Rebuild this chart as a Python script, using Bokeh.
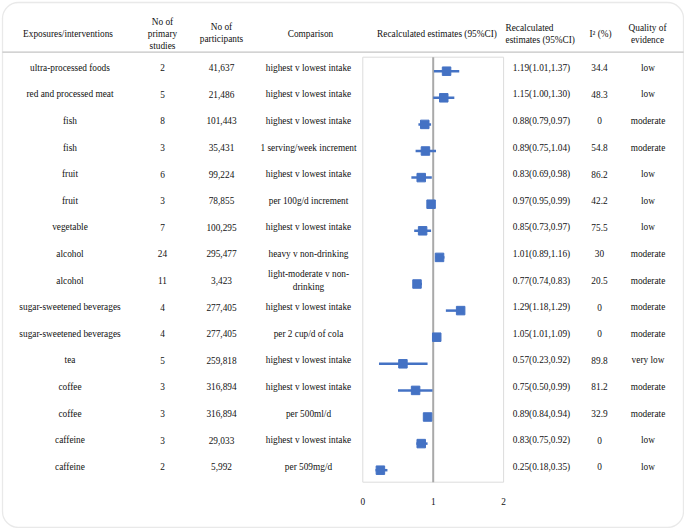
from bokeh.plotting import figure
from bokeh.models import Range1d, BoxAnnotation, ColumnDataSource
from bokeh.core.properties import value
from bokeh.embed import file_html
from bokeh.resources import INLINE

# ---------------- data ----------------
exposures = ["ultra-processed foods", "red and processed meat", "fish", "fish", "fruit", "fruit",
             "vegetable", "alcohol", "alcohol", "sugar-sweetened beverages",
             "sugar-sweetened beverages", "tea", "coffee", "coffee", "caffeine", "caffeine"]
n_studies = ["2", "5", "8", "3", "6", "3", "7", "24", "11", "4", "4", "5", "3", "3", "3", "2"]
n_participants = ["41,637", "21,486", "101,443", "35,431", "99,224", "78,855", "100,295",
                  "295,477", "3,423", "277,405", "277,405", "259,818", "316,894", "316,894",
                  "29,033", "5,992"]
comparisons = ["highest v lowest intake", "highest v lowest intake", "highest v lowest intake",
               "1 serving/week increment", "highest v lowest intake", "per 100g/d increment",
               "highest v lowest intake", "heavy v non-drinking", "light-moderate v non-\ndrinking",
               "highest v lowest intake", "per 2 cup/d of cola", "highest v lowest intake",
               "highest v lowest intake", "per 500ml/d", "highest v lowest intake", "per 509mg/d"]
estimate_labels = ["1.19(1.01,1.37)", "1.15(1.00,1.30)", "0.88(0.79,0.97)", "0.89(0.75,1.04)",
                   "0.83(0.69,0.98)", "0.97(0.95,0.99)", "0.85(0.73,0.97)", "1.01(0.89,1.16)",
                   "0.77(0.74,0.83)", "1.29(1.18,1.29)", "1.05(1.01,1.09)", "0.57(0.23,0.92)",
                   "0.75(0.50,0.99)", "0.89(0.84,0.94)", "0.83(0.75,0.92)", "0.25(0.18,0.35)"]
i2_values = ["34.4", "48.3", "0", "54.8", "86.2", "42.2", "75.5", "30", "20.5", "0", "0",
             "89.8", "81.2", "32.9", "0", "0"]
quality = ["low", "low", "moderate", "moderate", "low", "low", "low", "moderate", "moderate",
           "moderate", "moderate", "very low", "moderate", "moderate", "low", "low"]

# plotted estimates (as drawn in the forest plot)
est = [1.19, 1.15, 0.88, 0.89, 0.83, 0.97, 0.85, 1.09, 0.77, 1.39, 1.05, 0.57, 0.75, 0.92, 0.83, 0.25]
ci_low = [1.01, 1.00, 0.79, 0.75, 0.69, 0.95, 0.73, 1.03, 0.74, 1.18, 1.01, 0.23, 0.50, 0.87, 0.76, 0.18]
ci_high = [1.37, 1.30, 0.97, 1.04, 0.98, 0.99, 0.97, 1.16, 0.84, 1.39, 1.09, 0.92, 0.99, 0.96, 0.92, 0.35]

tick_values = [0, 1, 2]
tick_labels = ["0", "1", "2"]

headers = ["Exposures/interventions", "No of\nprimary\nstudies", "No of\nparticipants", "Comparison",
           "Recalculated estimates (95%CI)", "Recalculated\nestimates (95%CI)", "I\u00b2 (%)",
           "Quality of\nevidence"]

# ---------------- layout ----------------
W, H = 684, 528
OFF = 0
UX = 70.4          # pixels per unit on the forest-plot axis
X0_PAGE = 362.3    # page x of value 0
ROW_H = 26.6
ROW0_PAGE = 70.7

x_start = (OFF - X0_PAGE) / UX
x_end = x_start + W / UX
y_top = -(ROW0_PAGE - OFF) / ROW_H
y_bot = y_top + H / ROW_H


def gx(pg):
    return x_start + (pg - OFF) / UX


def gy(pg):
    return y_top + (pg - OFF) / ROW_H


FONT = value("Liberation Serif")
FS = "9.3px"
TXT = "#111111"
BLUE = "#4472C4"

p = figure(width=W, height=H, x_range=Range1d(x_start, x_end), y_range=Range1d(y_bot, y_top),
           x_axis_type=None, y_axis_type=None, toolbar_location=None, output_backend="svg",
           min_border=0, outline_line_color=None, background_fill_color="white")
p.grid.visible = False

# outer rounded border
p.add_layout(BoxAnnotation(left=gx(2), right=gx(683), top=gy(2), bottom=gy(527),
                           fill_alpha=0, line_color="#b5b5b5", line_width=1.3, border_radius=16))

# header separator
p.segment(x0=[gx(2)], x1=[gx(683)], y0=[gy(51.7)], y1=[gy(51.7)], line_color="#c4c4c4", line_width=1.3)

# forest plot box
box_top, box_bot = gy(56.7), gy(481.7)
p.segment(x0=[tick_values[0], tick_values[-1], tick_values[0], tick_values[0]],
          x1=[tick_values[0], tick_values[-1], tick_values[-1], tick_values[-1]],
          y0=[box_top, box_top, box_top, box_bot], y1=[box_bot, box_bot, box_top, box_bot],
          line_color="#dcdcdc", line_width=1)
p.segment(x0=[1], x1=[1], y0=[box_top], y1=[box_bot], line_color="#a9a9a9", line_width=2)

rows = list(range(len(exposures)))
src = ColumnDataSource(dict(row=rows, est=est, lo=ci_low, hi=ci_high))
p.segment(x0="lo", x1="hi", y0="row", y1="row", source=src, line_color=BLUE, line_width=2.5)
p.scatter(x="est", y="row", source=src, marker="square", size=8.5, fill_color=BLUE, line_color=BLUE)

# tick labels
p.text(x=tick_values, y=[gy(500.7)] * len(tick_values), text=tick_labels, text_font=FONT,
       text_font_size=FS, text_align="center", text_baseline="middle", text_color=TXT)

# headers
hdr_pos = [(67.5, 33.3, "center"), (162, 33, "center"), (221, 32, "center"), (310, 33, "center"),
           (436.5, 33, "center"), (505, 33, "left"), (600, 33, "center"), (647, 33, "center")]
for h, (hx, hy, al) in zip(headers, hdr_pos):
    p.text(x=[gx(hx)], y=[gy(hy)], text=[h], text_font=FONT, text_font_size=FS, text_align=al,
           text_baseline="middle", text_color=TXT, text_line_height=1.2)

# table body
ty = [r - 3.5 / ROW_H for r in rows]
cols = [(exposures, 69.5), (n_studies, 162), (n_participants, 221), (comparisons, 308),
        (estimate_labels, 541), (i2_values, 599), (quality, 647.5)]
for texts, cx in cols:
    p.text(x=[gx(cx)] * len(texts), y=ty, text=texts, text_font=FONT, text_font_size=FS,
           text_align="center", text_baseline="middle", text_color=TXT, text_line_height=1.35)

open("out.html", "w").write(file_html(p, INLINE))
